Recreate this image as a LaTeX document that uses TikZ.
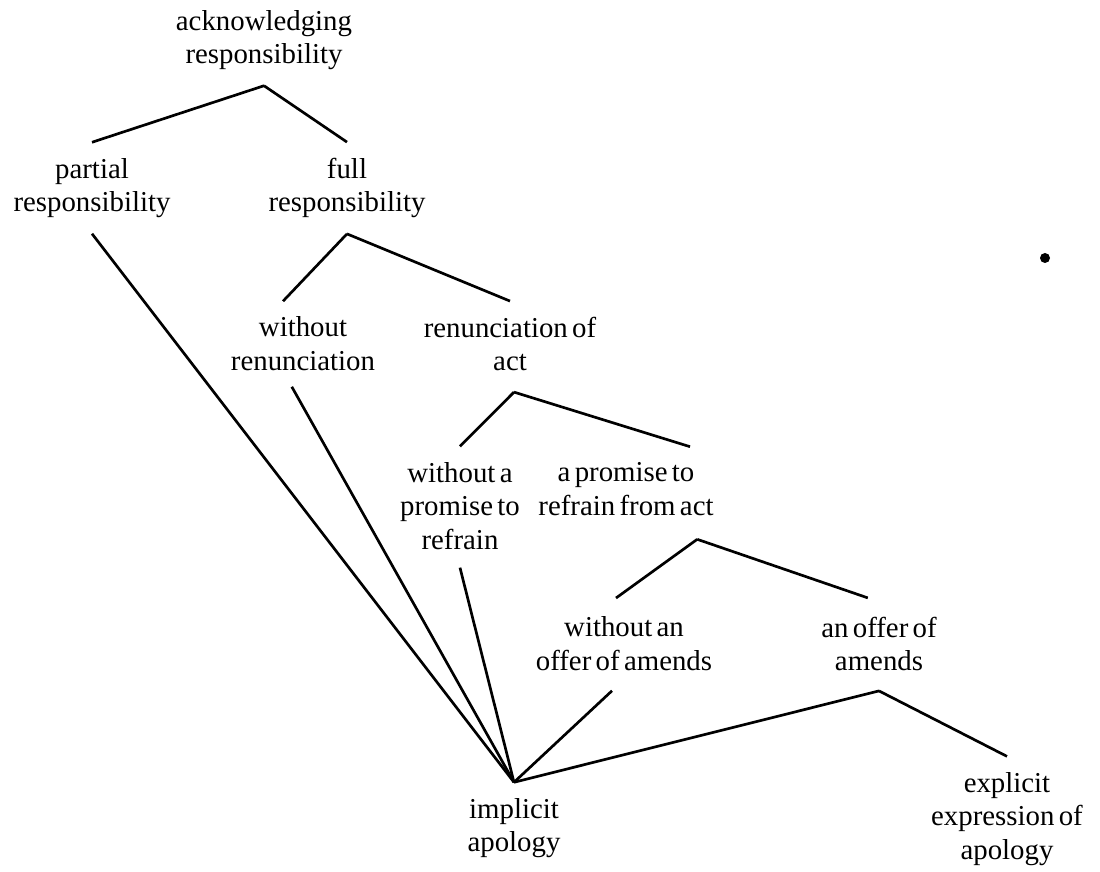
\documentclass[tikz,border=0pt]{standalone}
\usepackage{fontspec}
\setmainfont[WordSpace=0.6]{Liberation Serif}
\usepackage{tikz}
\usetikzlibrary{positioning}

\begin{document}
\begin{tikzpicture}[x=0.025cm, y=-0.025cm,
  lbl/.style  = {align=center, inner xsep=0pt, inner ysep=11pt,
                 font=\fontsize{20.5}{24}\selectfont},
  speck/.style = {circle, fill=black, inner sep=0pt, minimum size=2.5mm},
  e/.style    = {draw=black, line width=1.9pt}]
\useasboundingbox (0,0) rectangle (1100,872);

% --- categories -------------------------------------------------------
\node[lbl] (ack)   at (264,40)   {acknowledging\\responsibility};
\node[lbl] (part)  at (92,188)   {partial\\responsibility};
\node[lbl] (full)  at (347,188)  {full\\responsibility};
\node[lbl] (wren)  at (303,344)  {without\\renunciation};
\node[lbl] (ren)   at (510,344)  {renunciation of\\act};
\node[lbl] (wprom) at (460,506)  {without a\\promise to\\refrain};
\node[lbl] (prom)  at (626,489)  {a promise to\\refrain from act};
\node[lbl] (woff)  at (624,644)  {without an\\offer of amends};
\node[lbl] (offer) at (879,644)  {an offer of\\amends};
\node[lbl] (imp)   at (514,828)  {implicit\\apology};
\node[lbl] (expl)  at (1007,819) {explicit\\expression of\\apology};
\node[speck] (dot) at (1045,258) {};

% --- branches ---------------------------------------------------------
\draw[e] (ack.south)  -- (part.north);
\draw[e] (ack.south)  -- (full.north);
\draw[e] (full.south) -- ([xshift=-0.5cm]wren.north);
\draw[e] (full.south) -- (ren.north);
\draw[e] ([xshift=0.1cm,yshift=-0.13cm]ren.south) -- (wprom.north);
\draw[e] ([xshift=0.1cm,yshift=-0.13cm]ren.south) -- ([xshift=1.6cm]prom.north);
\draw[e] ([xshift=1.78cm,yshift=-0.2cm]prom.south) -- ([xshift=-0.2cm,yshift=0.08cm]woff.north);
\draw[e] ([xshift=1.78cm,yshift=-0.2cm]prom.south) -- ([xshift=-0.28cm,yshift=0.08cm]offer.north);
\draw[e] ([yshift=-0.1cm]offer.south) -- (expl.north);

% --- into implicit apology --------------------------------------------
\draw[e] (part.south)  -- (imp.north);
\draw[e] ([xshift=-0.28cm]wren.south) -- (imp.north);
\draw[e] ([yshift=-0.05cm]wprom.south) -- (imp.north);
\draw[e] ([xshift=-0.3cm,yshift=-0.1cm]woff.south) -- (imp.north);
\draw[e] ([yshift=-0.1cm]offer.south) -- (imp.north);
\end{tikzpicture}
\end{document}
